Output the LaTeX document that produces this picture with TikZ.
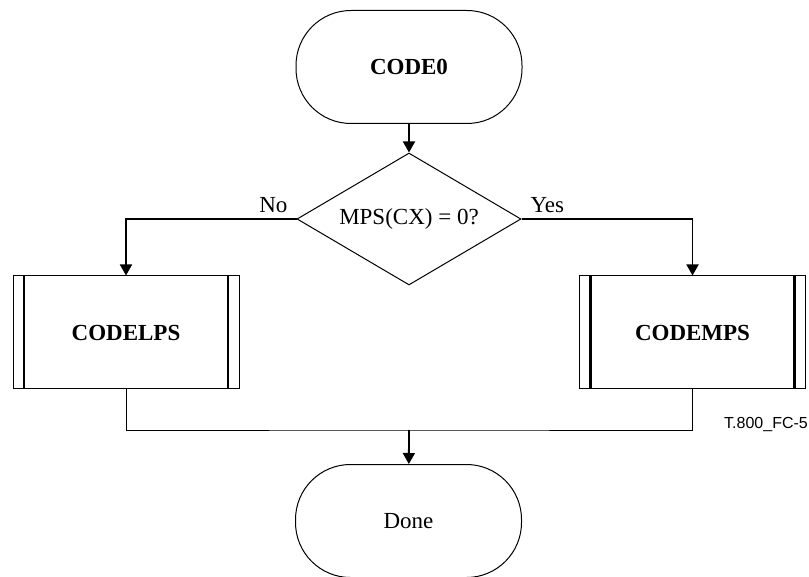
\documentclass[tikz,border=0pt]{standalone}
\usepackage{fontspec}
\setmainfont{Liberation Serif}
\newfontfamily\tagfont{Liberation Sans}
\usetikzlibrary{shapes.geometric,arrows.meta}
\tikzset{
  term/.style={draw, line width=1pt, rounded corners=55pt, minimum width=226pt, minimum height=113pt, font=\fontsize{23}{26}\selectfont},
  test/.style={draw, diamond, line width=1pt, aspect=1.7, minimum width=224pt, minimum height=132pt, inner sep=0pt, font=\fontsize{23}{26}\selectfont},
  subr/.style={draw, line width=1pt, minimum width=226pt, minimum height=113pt, font=\fontsize{23}{26}\selectfont\bfseries},
  arr/.style={line width=1.8pt, -{Triangle[length=11pt,width=12pt]}},
  wire/.style={line width=1pt}
}
\begin{document}
\begin{tikzpicture}[x=1pt,y=-1pt]
\useasboundingbox (0,0) rectangle (809,577);
\node[term, font=\fontsize{23}{26}\selectfont\bfseries] (code0) at (409,67) {CODE0};
\node[test] (mpstest) at (409,219) {MPS(CX) = 0?};
\node[subr] (codelps) at (126,332.5) {CODELPS};
\node[subr] (codemps) at (692.5,332.5) {CODEMPS};
\node[term] (done) at (408.5,521) {Done};
\coordinate (join) at (409,430);
% side bars of the subroutine boxes
\foreach \b in {codelps,codemps} {
  \draw[line width=2.2pt] ([xshift=11.5pt]\b.north west) -- ([xshift=11.5pt]\b.south west);
  \draw[line width=2.2pt] ([xshift=-11.5pt]\b.north east) -- ([xshift=-11.5pt]\b.south east);
}
\draw[arr] (code0) -- (mpstest);
\draw[arr] (mpstest.west) -| (codelps.north);
\draw[arr] (mpstest.east) -| (codemps.north);
\draw[wire] (codelps.south) |- (join) -| (codemps.south);
\draw[arr] (join) -- (done);
\node[anchor=base east, font=\fontsize{23}{26}\selectfont] (nolbl) at (291,213) {No};
\node[anchor=base west, font=\fontsize{23}{26}\selectfont] (yeslbl) at (527,213) {Yes};
\node[anchor=east, inner sep=0pt, font=\tagfont\fontsize{16}{18}\selectfont] (figtag) at (808,425) {T.800\_FC-5};
\end{tikzpicture}
\end{document}
